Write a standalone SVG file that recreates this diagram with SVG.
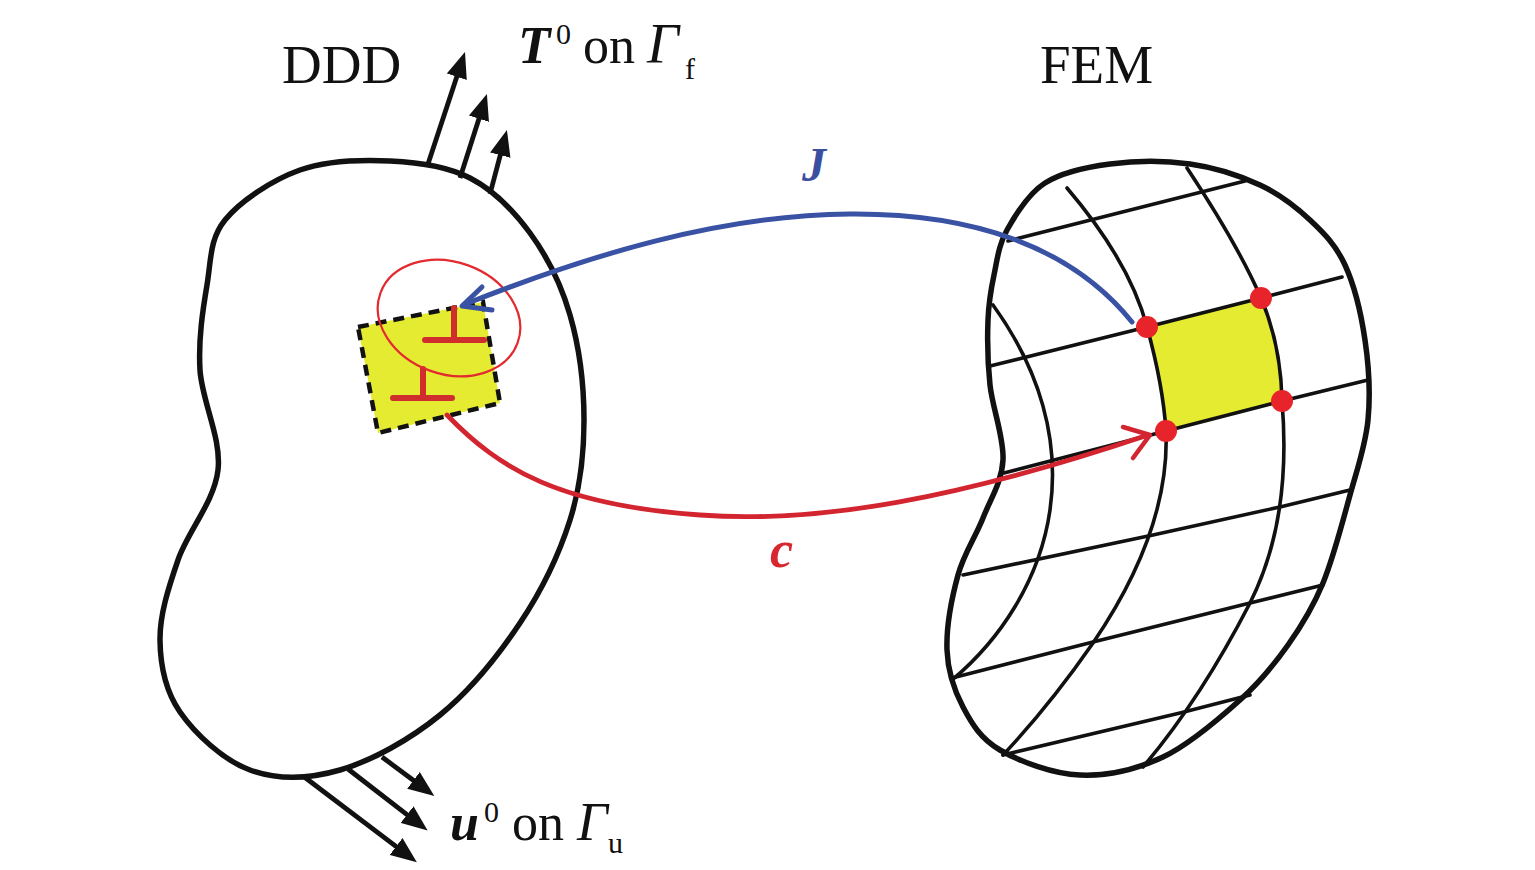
<svg xmlns="http://www.w3.org/2000/svg" width="1535" height="870" viewBox="0 0 1535 870">
<style>
.outline{fill:none;stroke:#111;stroke-width:5.5;stroke-linejoin:round}
.mesh{fill:none;stroke:#111;stroke-width:3.6;stroke-linejoin:round;stroke-linecap:round}
.force{fill:none;stroke:#111;stroke-width:4.8}
.disl{fill:none;stroke:#cf2e2c;stroke-width:6;stroke-linecap:round}
.dot{fill:#e8242b}
.yel{fill:#e4eb31}
.t{font-family:"Liberation Serif","Times New Roman",serif;fill:#111}
.bi{font-weight:bold;font-style:italic}
.it{font-style:italic}
</style>
<defs>
<marker id="tri" viewBox="0 -11 26 22" refX="6" refY="0" markerWidth="26" markerHeight="22" markerUnits="userSpaceOnUse" orient="auto">
<path d="M0,-10.5 L26,0 L0,10.5 z" fill="#111"/>
</marker>
</defs>

<g id="ddd">
<path class="outline" d="M225,220 C240.5,200.8 272.5,179.8 300,170 C327.5,160.2 361.7,159.7 390,161 C418.3,162.3 446.7,166 470,178 C493.3,190 513.3,210.2 530,233 C546.7,255.8 561,283.8 570,315 C579,346.2 584,385.8 584,420 C584,454.2 580.7,486.2 570,520 C559.3,553.8 541.7,590.5 520,623 C498.3,655.5 470,690.5 440,715 C410,739.5 371.7,760.8 340,770 C308.3,779.2 276.7,779.7 250,770 C223.3,760.3 195,733.7 180,712 C165,690.3 160.3,665.3 160,640 C159.7,614.7 168.3,588.3 178,560 C187.7,531.7 214.3,501.7 218,470 C221.7,438.3 201.8,400.8 200,370 C198.2,339.2 202.8,310 207,285 C211.2,260 209.5,239.2 225,220 Z"/>
<g id="traction">
<line class="force" x1="428" y1="164" x2="458.7" y2="71" marker-end="url(#tri)"/>
<line class="force" x1="460" y1="178" x2="480.8" y2="113" marker-end="url(#tri)"/>
<line class="force" x1="490" y1="194" x2="501.8" y2="149.3" marker-end="url(#tri)"/>
</g>
<g id="displacement">
<line class="force" x1="382" y1="757" x2="418.3" y2="784" marker-end="url(#tri)"/>
<line class="force" x1="348" y1="769" x2="411.8" y2="818.3" marker-end="url(#tri)"/>
<line class="force" x1="303" y1="776" x2="400.9" y2="850.1" marker-end="url(#tri)"/>
</g>
<g id="ddd-cell">
<polygon class="yel" points="358,327 483,302 500,403 378,433" stroke="#111" stroke-width="4.5" stroke-dasharray="11 7"/>
<path class="disl" d="M454,308 L454,340 M425,340 L484,340"/>
<path class="disl" d="M423,369 L423,398 M393,398 L452,398"/>
<ellipse cx="449" cy="318" rx="73" ry="56" transform="rotate(20 449 318)" fill="none" stroke="#e32b2f" stroke-width="2.2"/>
</g>
</g>

<g id="fem">
<path class="yel" d="M1147,327 L1261,298 Q1281,345 1282,401 L1166,431 Q1163,385 1147,327 Z"/>
<g id="mesh">
<path class="mesh" d="M1008,241 L1245,181"/>
<path class="mesh" d="M990,366 L1147,327 L1261,298 L1342,277"/>
<path class="mesh" d="M1004,473 L1166,431 L1282,401 L1368,380"/>
<path class="mesh" d="M963,575 L1153,535 L1280,507 L1350,490"/>
<path class="mesh" d="M952,678 L1093,642 L1250,603 L1323,585"/>
<path class="mesh" d="M1003,755 L1180,713 L1250,695"/>
<path class="mesh" d="M993,305 C1040,370 1060,440 1050,510 C1040,580 1000,640 952,680"/>
<path class="mesh" d="M1067,188 Q1130,262 1147,327 Q1163,385 1166,431 Q1170,530 1093,643 Q1050,705 1003,755"/>
<path class="mesh" d="M1187,168 Q1238,245 1261,298 Q1281,345 1282,401 Q1292,520 1250,603 Q1200,700 1143,767"/>
</g>
<path class="outline" d="M1007,230 C1015.5,214.7 1027.8,194 1045,183 S1085.8,167.2 1110,164 S1165,160.5 1190,164 S1240,175.7 1260,185 S1295.8,206.7 1310,220 S1335.8,245 1345,265 S1361.2,314.2 1365,340 S1370.5,394.2 1368,420 S1357.5,467.8 1350,495 S1333.3,558 1323,583 S1301.8,625.5 1288,645 S1260.8,681.3 1240,700 S1189.7,744.5 1163,757 S1107.2,776.2 1080,775 S1019.5,761.3 1000,750 S971.8,723.7 963,707 S947.8,672 947,650 S952,597 958,575 S975.5,537.2 983,518 S1001.8,482.2 1003,460 S992.5,408.3 990,385 S987.3,338.3 988,320 S990.8,290 994,275 S998.5,245.3 1007,230 Z"/>
<g id="nodes">
<circle class="dot" cx="1147" cy="327" r="11"/>
<circle class="dot" cx="1261" cy="298" r="11"/>
<circle class="dot" cx="1282" cy="401" r="11"/>
<circle class="dot" cx="1166" cy="431" r="11"/>
</g>
</g>

<g id="connectors">
<path d="M1132,322 C1070,245 970,213 850,214 C720,215 590,255 468,303" fill="none" stroke="#3a52a3" stroke-width="5" stroke-linecap="round"/>
<polyline points="482,287 462,306 492,310" fill="none" stroke="#3a52a3" stroke-width="5" stroke-linecap="round" stroke-linejoin="round"/>
<path d="M447,415 C500,470 560,505 700,515 C820,524 960,498 1145,436" fill="none" stroke="#d32530" stroke-width="4.8" stroke-linecap="round"/>
<polyline points="1123,427 1150,435 1133,458" fill="none" stroke="#d32530" stroke-width="4.5" stroke-linecap="round" stroke-linejoin="round"/>
</g>

<g id="labels">
<text class="t" x="282" y="83" font-size="55">DDD</text>
<text class="t" x="1040" y="83" font-size="55">FEM</text>
<text class="t bi" x="518" y="63" font-size="53">T</text>
<text class="t" x="556" y="44" font-size="30">0</text>
<text class="t" x="583" y="63" font-size="52">on</text>
<text class="t it" x="647" y="63" font-size="56">Γ</text>
<text class="t" x="685" y="79" font-size="30">f</text>
<text class="t bi" x="450" y="840" font-size="52">u</text>
<text class="t" x="484" y="822" font-size="30">0</text>
<text class="t" x="512" y="840" font-size="52">on</text>
<text class="t it" x="577" y="840" font-size="54">Γ</text>
<text class="t" x="608" y="853" font-size="30">u</text>
<text class="t bi" x="802" y="181" font-size="48" style="fill:#3b4fa0">J</text>
<text class="t bi" x="770" y="567" font-size="52" style="fill:#d7282f">c</text>
</g>
</svg>
